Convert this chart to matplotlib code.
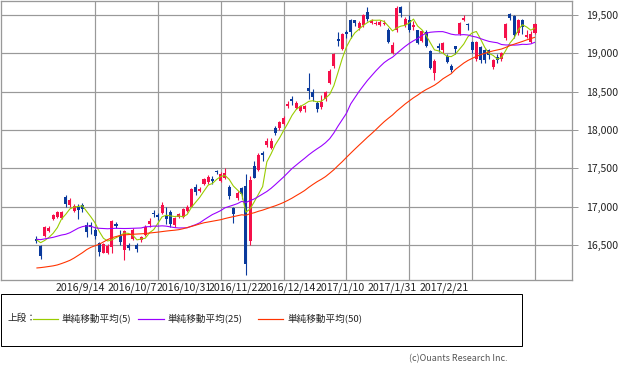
import matplotlib
matplotlib.use("Agg")
import matplotlib.pyplot as plt
from matplotlib.lines import Line2D
from matplotlib.patches import Rectangle
from matplotlib.ticker import FuncFormatter

plt.rcParams['font.family'] = ['Noto Sans CJK JP', 'DejaVu Sans']

# ---------------- data ----------------
dates = ['2016/8/25', '2016/8/26', '2016/8/29', '2016/8/30', '2016/8/31',
         '2016/9/1', '2016/9/2', '2016/9/5', '2016/9/6', '2016/9/7', '2016/9/8', '2016/9/9',
         '2016/9/12', '2016/9/13', '2016/9/14', '2016/9/15', '2016/9/16', '2016/9/20',
         '2016/9/21', '2016/9/23', '2016/9/26', '2016/9/27', '2016/9/28', '2016/9/29', '2016/9/30',
         '2016/10/3', '2016/10/4', '2016/10/5', '2016/10/6', '2016/10/7', '2016/10/11',
         '2016/10/12', '2016/10/13', '2016/10/14', '2016/10/17', '2016/10/18', '2016/10/19',
         '2016/10/20', '2016/10/21', '2016/10/24', '2016/10/25', '2016/10/26', '2016/10/27',
         '2016/10/28', '2016/10/31', '2016/11/1', '2016/11/2', '2016/11/4', '2016/11/7',
         '2016/11/8', '2016/11/9', '2016/11/10', '2016/11/11', '2016/11/14', '2016/11/15',
         '2016/11/16', '2016/11/17', '2016/11/18', '2016/11/21', '2016/11/22', '2016/11/24',
         '2016/11/25', '2016/11/28', '2016/11/29', '2016/11/30', '2016/12/1', '2016/12/2',
         '2016/12/5', '2016/12/6', '2016/12/7', '2016/12/8', '2016/12/9', '2016/12/12',
         '2016/12/13', '2016/12/14', '2016/12/15', '2016/12/16', '2016/12/19', '2016/12/20',
         '2016/12/21', '2016/12/22', '2016/12/26', '2016/12/27', '2016/12/28', '2016/12/29',
         '2016/12/30', '2017/1/4', '2017/1/5', '2017/1/6', '2017/1/10', '2017/1/11',
         '2017/1/12', '2017/1/13', '2017/1/16', '2017/1/17', '2017/1/18', '2017/1/19',
         '2017/1/20', '2017/1/23', '2017/1/24', '2017/1/25', '2017/1/26', '2017/1/27',
         '2017/1/30', '2017/1/31', '2017/2/1', '2017/2/2', '2017/2/3', '2017/2/6', '2017/2/7',
         '2017/2/8', '2017/2/9', '2017/2/10', '2017/2/13', '2017/2/14', '2017/2/15',
         '2017/2/16', '2017/2/17', '2017/2/20', '2017/2/21']

opens = [16580, 16490, 16618, 16688, 16840, 16862, 16850, 17127, 17022, 16944, 17000, 17020,
         16761, 16760, 16700, 16523, 16400, 16400, 16480, 16770, 16620, 16430, 16497, 16575,
         16500, 16560, 16630, 16770, 16920, 16890, 16922, 16880, 16935, 16760, 16870, 16862,
         16950, 17000, 17260, 17210, 17300, 17320, 17360, 17455, 17335, 17380, 17252, 16980,
         17110, 17240, 17270, 16553, 17531, 17480, 17705, 17805, 17770, 18020, 18020, 18080,
         18310, 18400, 18283, 18250, 18270, 18544, 18500, 18357, 18300, 18400, 18610, 18830,
         19190, 19060, 19275, 19440, 19430, 19330, 19370, 19540, 19395, 19380, 19370, 19380,
         19300, 19010, 19298, 19605, 19370, 19435, 19340, 19300, 19165, 19280, 19035, 18750,
         19090, 19045, 18960, 18830, 19096, 19250, 19440, 19380, 19150, 18922, 19087, 19043,
         19043, 18826, 18950, 18920, 19196, 19510, 19487, 19260, 19435, 19210, 19150, 19265]

highs = [16620, 16500, 16752, 16750, 16910, 16950, 16950, 17153, 17110, 17030, 17030, 17050,
         16800, 16800, 16720, 16540, 16530, 16510, 16830, 16800, 16700, 16700, 16530, 16720,
         16520, 16620, 16760, 16850, 16960, 16920, 17060, 17000, 16960, 16870, 16920, 16980,
         17020, 17250, 17290, 17260, 17380, 17410, 17400, 17480, 17450, 17500, 17280, 17000,
         17200, 17260, 17420, 17400, 17600, 17700, 17730, 17900, 17900, 18050, 18120, 18180,
         18380, 18450, 18380, 18330, 18320, 18746, 18530, 18380, 18460, 18510, 18800, 19000,
         19274, 19260, 19300, 19450, 19440, 19420, 19510, 19600, 19450, 19420, 19440, 19430,
         19330, 19150, 19615, 19620, 19480, 19500, 19420, 19310, 19300, 19300, 19050, 18930,
         19130, 19150, 18990, 18860, 19100, 19410, 19500, 19400, 19160, 19160, 19100, 19060,
         19060, 18930, 18990, 19020, 19400, 19520, 19500, 19450, 19450, 19300, 19290, 19400]

lows = [16525, 16315, 16610, 16670, 16830, 16850, 16840, 16996, 17000, 16930, 16840, 16930,
        16600, 16650, 16580, 16357, 16390, 16380, 16390, 16720, 16500, 16300, 16440, 16560,
        16410, 16540, 16620, 16740, 16870, 16830, 16910, 16780, 16740, 16740, 16850, 16850,
        16930, 16990, 17150, 17190, 17280, 17300, 17300, 17420, 17320, 17360, 17100, 16792,
        17090, 17100, 16110, 16500, 17370, 17460, 17600, 17780, 17750, 17930, 18000, 18060,
        18290, 18320, 18270, 18230, 18240, 18400, 18380, 18230, 18270, 18380, 18600, 18810,
        19100, 19050, 19200, 19200, 19360, 19300, 19350, 19420, 19380, 19370, 19360, 19370,
        19140, 18990, 19280, 19470, 19350, 19280, 19300, 19120, 19150, 19080, 18800, 18650,
        19020, 19000, 18870, 18760, 18990, 19240, 19420, 19300, 19000, 18900, 18870, 18880,
        18930, 18800, 18880, 18900, 19180, 19440, 19200, 19240, 19250, 19200, 19140, 19250]

closes = [16556, 16361, 16737, 16725, 16887, 16926, 16925, 17037, 17082, 17012, 16958, 16965,
          16672, 16729, 16614, 16405, 16519, 16492, 16807, 16754, 16544, 16683, 16465, 16694,
          16450, 16599, 16736, 16819, 16899, 16860, 17025, 16840, 16774, 16856, 16900, 16964,
          16999, 17235, 17185, 17234, 17365, 17392, 17336, 17446, 17425, 17442, 17134, 16905,
          17177, 17171, 16251, 17344, 17375, 17672, 17668, 17862, 17863, 17967, 18106, 18163,
          18333, 18381, 18357, 18307, 18308, 18513, 18426, 18275, 18360, 18497, 18765, 18996,
          19155, 19250, 19254, 19274, 19401, 19392, 19494, 19444, 19428, 19397, 19403, 19402,
          19145, 19114, 19594, 19520, 19454, 19301, 19364, 19134, 19287, 19095, 18813, 18894,
          19072, 19138, 18891, 18788, 19057, 19402, 19467, 19369, 19041, 19148, 18914, 18918,
          18976, 18911, 18908, 19008, 19379, 19459, 19239, 19438, 19348, 19235, 19251, 19381]

ma5 = [16570, 16530, 16560, 16600, 16653, 16727, 16840, 16900, 16971, 16996, 17003, 17011,
       16938, 16867, 16788, 16677, 16588, 16552, 16567, 16595, 16623, 16656, 16651, 16628,
       16567, 16578, 16589, 16660, 16701, 16783, 16868, 16889, 16880, 16871, 16879, 16867,
       16899, 16991, 17057, 17123, 17204, 17282, 17302, 17355, 17393, 17408, 17357, 17270,
       17217, 17166, 16928, 16970, 17064, 17163, 17262, 17584, 17688, 17806, 17893, 17992,
       18086, 18190, 18268, 18308, 18337, 18373, 18382, 18366, 18376, 18414, 18465, 18579,
       18755, 18933, 19084, 19186, 19267, 19314, 19363, 19401, 19432, 19431, 19433, 19415,
       19355, 19292, 19332, 19355, 19365, 19397, 19447, 19355, 19308, 19236, 19139, 19045,
       19032, 19002, 18962, 18957, 18989, 19055, 19121, 19217, 19267, 19285, 19188, 19078,
       18999, 18973, 18925, 18944, 19036, 19133, 19199, 19305, 19373, 19344, 19302, 19331]

ma25 = [16575, 16570, 16580, 16590, 16600, 16615, 16630, 16640, 16660, 16690, 16720, 16740,
        16750, 16745, 16725, 16718, 16715, 16712, 16715, 16718, 16716, 16715, 16716, 16718,
        16720, 16722, 16737, 16740, 16747, 16746, 16750, 16746, 16736, 16727, 16722, 16723,
        16724, 16746, 16765, 16790, 16828, 16863, 16897, 16922, 16949, 16985, 17003, 17021,
        17040, 17069, 17055, 17079, 17101, 17132, 17165, 17198, 17239, 17287, 17337, 17387,
        17442, 17497, 17542, 17587, 17630, 17676, 17717, 17755, 17791, 17834, 17887, 17962,
        18052, 18135, 18218, 18339, 18421, 18502, 18575, 18646, 18708, 18770, 18827, 18879,
        18918, 18950, 18998, 19045, 19090, 19130, 19164, 19193, 19233, 19262, 19275, 19280,
        19283, 19283, 19268, 19250, 19241, 19241, 19244, 19239, 19223, 19212, 19192, 19173,
        19156, 19146, 19138, 19115, 19109, 19109, 19107, 19110, 19118, 19116, 19123, 19145]

ma50 = [16200, 16205, 16212, 16220, 16228, 16240, 16258, 16278, 16300, 16330, 16365, 16400,
        16440, 16470, 16490, 16510, 16540, 16570, 16595, 16610, 16625, 16632, 16636, 16640,
        16643, 16646, 16650, 16656, 16662, 16668, 16675, 16682, 16688, 16693, 16700, 16712,
        16728, 16742, 16758, 16775, 16790, 16800, 16810, 16820, 16830, 16845, 16858, 16870,
        16882, 16894, 16888, 16908, 16921, 16940, 16955, 16974, 16993, 17011, 17032, 17055,
        17082, 17111, 17144, 17176, 17210, 17252, 17290, 17326, 17357, 17392, 17436, 17482,
        17536, 17587, 17643, 17697, 17750, 17802, 17853, 17905, 17953, 18004, 18057, 18108,
        18153, 18196, 18248, 18293, 18339, 18380, 18420, 18455, 18494, 18527, 18555, 18584,
        18622, 18667, 18701, 18734, 18790, 18831, 18873, 18907, 18934, 18960, 18981, 19000,
        19017, 19032, 19044, 19056, 19077, 19100, 19119, 19137, 19155, 19175, 19192, 19210]

grid_dates = ['2016/9/14', '2016/10/7', '2016/10/31', '2016/11/22', '2016/12/14',
              '2017/1/10', '2017/1/31', '2017/2/21']
y_ticks = [16500, 17000, 17500, 18000, 18500, 19000, 19500]
legend_head = '上段：'
legend_labels = ['単純移動平均(5)', '単純移動平均(25)', '単純移動平均(50)']
credit = '(c)Ouants Research Inc.'

# ---------------- style ----------------
W, H = 633, 370
UP = '#f5104a'
DOWN = '#0a3a9c'
C_MA = ['#99cc00', '#9a00ff', '#ff3300']
GRID = '#999999'
PX = 72 / 100  # one pixel in points

fig = plt.figure(figsize=(W / 100, H / 100), dpi=100)
fig.patch.set_facecolor('white')

ax_l, ax_r, ax_t, ax_b = 1, 572, 0.5, 280
ax = fig.add_axes([ax_l / W, 1 - ax_b / H, (ax_r - ax_l) / W, (ax_b - ax_t) / H])

n = len(closes)
xs = list(range(n))

# candles
for i in xs:
    o, h, l, c = opens[i], highs[i], lows[i], closes[i]
    col = UP if c >= o else DOWN
    ax.vlines(i, l, h, color=col, lw=1.0 * PX * 1.1, zorder=3)
    body = max(abs(c - o), 14)
    ax.bar(i, body, bottom=min(o, c), width=0.72, color=col, edgecolor='none', zorder=3)

for vals, col in zip([ma5, ma25, ma50], C_MA):
    ax.plot(xs, vals, color=col, lw=1.1 * PX, zorder=4, solid_capstyle='butt')

# axis ranges: first candle ~35 px from left edge, ~37 px blank after last candle
px_per_day = (535 - 95) / (dates.index('2017/2/21') - dates.index('2016/9/14'))
x0 = -(36.4 - ax_l) / px_per_day
x1 = (n - 1) + (ax_r - 535) / px_per_day
ax.set_xlim(x0, x1)
px_per_yen = (245 - 15) / 3000.0
ax.set_ylim(16500 - (ax_b - 245) / px_per_yen, 19500 + (15 - ax_t) / px_per_yen)

grid_idx = [dates.index(d) for d in grid_dates]
ax.set_xticks(grid_idx)
ax.set_xticklabels([])
ax.tick_params(axis='x', length=0)
ax.set_yticks(y_ticks)
ax.yaxis.tick_right()
ax.yaxis.set_major_formatter(FuncFormatter(lambda v, p: f'{int(v):,}'))
ax.tick_params(axis='y', length=4, width=PX, color=GRID, pad=6,
               labelsize=10.5 * PX, labelcolor='#222222')
ax.grid(True, color=GRID, lw=1.2 * PX, zorder=1)
ax.set_axisbelow(True)
for s in ax.spines.values():
    s.set_color(GRID)
    s.set_linewidth(1.3 * PX)

# x labels: evenly spaced under the plot
lab0, lab_step = 80.7, 51.9
for k, d in enumerate(grid_dates):
    fig.text((lab0 + k * lab_step) / W, 1 - 288 / H, d, ha='center', va='center',
             fontsize=10.5 * PX, color='#222222')

# legend box
fig.add_artist(Rectangle((0.5 / W, 1 - 346 / H), 521 / W, 52 / H, transform=fig.transFigure,
                         fill=False, edgecolor='black', lw=1.0 * PX))
ly = 1 - 318.5 / H
fig.text(7 / W, ly, legend_head, ha='left', va='center', fontsize=9.6 * PX, color='#222222')
seg = [(33, 58, 62), (138, 164, 168), (258, 283, 287)]
for (a, b, t), col, lab in zip(seg, C_MA, legend_labels):
    fig.add_artist(Line2D([a / W, b / W], [ly, ly], color=col, lw=1.2 * PX,
                          transform=fig.transFigure))
    fig.text(t / W, ly, lab, ha='left', va='center', fontsize=9.6 * PX, color='#222222')

fig.text(507 / W, 1 - 359 / H, credit, ha='right', va='center', fontsize=9.0 * PX,
         color='#555555')

fig.savefig('out.png', dpi=100, facecolor='white')
